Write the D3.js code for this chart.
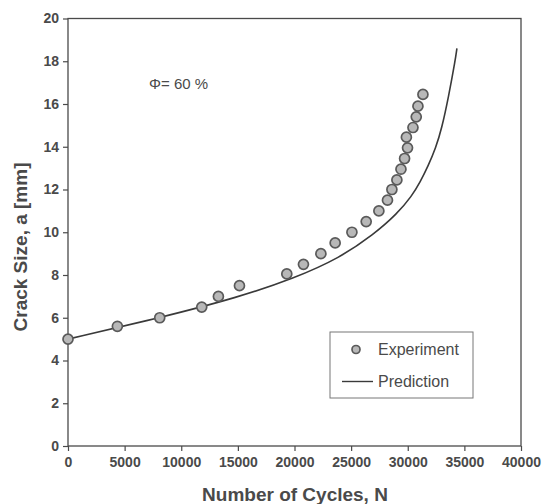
<!DOCTYPE html>
<html>
<head>
<meta charset="utf-8">
<script src="https://cdn.jsdelivr.net/npm/d3@7"></script>
<style>
  body { margin: 0; background: #fff; }
  text { font-family: Arial, "Liberation Sans", sans-serif; }
</style>
</head>
<body>
<div id="chart"></div>
<script>
// experiment points
var expCycles = [0, 4360, 8100, 11810, 13280, 15140, 19320, 20790, 22330, 23590, 25070, 26330,
                 27450, 28210, 28600, 29040, 29400, 29720, 29980, 29880, 30460, 30750, 30900, 31340];
var expCrack = [5.0, 5.6, 6.0, 6.5, 7.0, 7.5, 8.05, 8.5, 9.0, 9.5, 10.0, 10.5,
                11.0, 11.5, 12.0, 12.45, 12.95, 13.45, 13.95, 14.45, 14.9, 15.4, 15.9, 16.45];

// prediction curve
var predCycles = [0, 8130, 15000, 20000, 24000, 27000, 29040,
                  30370, 31100, 31800, 32470, 33000, 33600, 34200, 34340];
var predCrack = [5.0, 6.0, 6.95, 7.85, 8.8, 9.9, 10.85,
                 11.7, 12.35, 13.1, 13.94, 14.85, 16.33, 18.06, 18.6];

var xTicks = [0, 5000, 10000, 15000, 20000, 25000, 30000, 35000, 40000];
var yTicks = [0, 2, 4, 6, 8, 10, 12, 14, 16, 18, 20];

var W = 543, H = 504;
var margin = {top: 18.5, right: 22, bottom: 58, left: 68};
var width = W - margin.left - margin.right;
var height = H - margin.top - margin.bottom;
var ink = "#4a4a4a";

var svg = d3.select("#chart").append("svg")
    .attr("width", W)
    .attr("height", H);

var g = svg.append("g")
    .attr("transform", "translate(" + margin.left + "," + margin.top + ")");

var x = d3.scaleLinear().domain([0, 40000]).range([0, width]);
var y = d3.scaleLinear().domain([0, 20]).range([height, 0]);

// frame
g.append("rect")
    .attr("width", width)
    .attr("height", height)
    .attr("fill", "none")
    .attr("stroke", ink)
    .attr("stroke-width", 1.3);

var xAxis = g.append("g")
    .attr("transform", "translate(0," + height + ")")
    .call(d3.axisBottom(x).tickValues(xTicks).tickSize(5).tickPadding(6).tickFormat(d3.format("d")));

var yAxis = g.append("g")
    .call(d3.axisLeft(y).tickValues(yTicks).tickSize(5).tickPadding(4));

[xAxis, yAxis].forEach(function (a) {
    a.select(".domain").remove();
    a.selectAll("line").attr("stroke", ink).attr("stroke-width", 1.2);
    a.selectAll("text")
        .attr("fill", ink)
        .style("font-size", "14px")
        .style("font-weight", "bold")
        .style("font-family", "Arial, 'Liberation Sans', sans-serif");
});

// prediction line
var pred = predCycles.map(function (d, i) { return [d, predCrack[i]]; });
var line = d3.line()
    .x(function (d) { return x(d[0]); })
    .y(function (d) { return y(d[1]); })
    .curve(d3.curveBasis);

g.append("path")
    .datum(pred)
    .attr("d", line)
    .attr("fill", "none")
    .attr("stroke", "#3a3a3a")
    .attr("stroke-width", 1.6);

// experiment markers
var exp = expCycles.map(function (d, i) { return [d, expCrack[i]]; });
g.selectAll("circle.exp")
    .data(exp)
    .enter().append("circle")
    .attr("class", "exp")
    .attr("cx", function (d) { return x(d[0]); })
    .attr("cy", function (d) { return y(d[1]); })
    .attr("r", 5)
    .attr("fill", "#b8b8b8")
    .attr("stroke", "#5a5a5a")
    .attr("stroke-width", 1.7);

// annotation
svg.append("text")
    .attr("x", 149)
    .attr("y", 89)
    .attr("fill", ink)
    .style("font-size", "15px")
    .text("\u03A6= 60 %");

// legend
var lg = svg.append("g").attr("transform", "translate(330,332)");
lg.append("rect")
    .attr("width", 143)
    .attr("height", 66)
    .attr("fill", "#fff")
    .attr("stroke", "#777")
    .attr("stroke-width", 1);
lg.append("circle")
    .attr("cx", 26).attr("cy", 17.5).attr("r", 4)
    .attr("fill", "#b8b8b8").attr("stroke", "#5a5a5a").attr("stroke-width", 1.7);
lg.append("line")
    .attr("x1", 12).attr("x2", 43).attr("y1", 49.5).attr("y2", 49.5)
    .attr("stroke", "#3a3a3a").attr("stroke-width", 1.4);
lg.selectAll("text.lab")
    .data(["Experiment", "Prediction"])
    .enter().append("text")
    .attr("class", "lab")
    .attr("x", 48)
    .attr("y", function (d, i) { return 23 + i * 32; })
    .attr("fill", ink)
    .style("font-size", "16px")
    .text(function (d) { return d; });

// axis titles
svg.append("text")
    .attr("x", 295)
    .attr("y", 501)
    .attr("text-anchor", "middle")
    .attr("fill", ink)
    .style("font-size", "19px")
    .style("font-weight", "bold")
    .text("Number of Cycles, N");

svg.append("text")
    .attr("transform", "translate(27,247) rotate(-90)")
    .attr("text-anchor", "middle")
    .attr("fill", ink)
    .style("font-size", "19px")
    .style("font-weight", "bold")
    .text("Crack Size, a [mm]");
</script>
</body>
</html>
